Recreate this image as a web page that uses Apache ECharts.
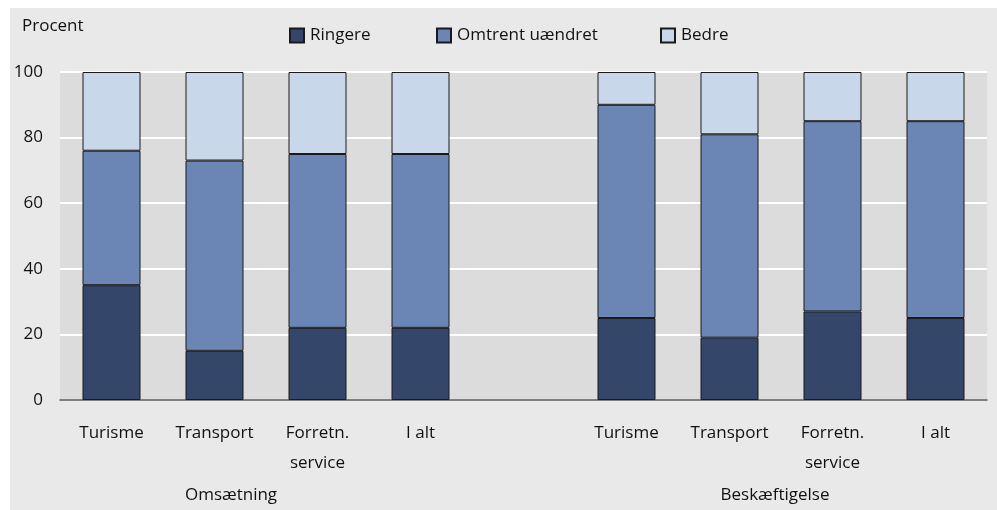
<!DOCTYPE html>
<html>
<head>
<meta charset="utf-8">
<script src="https://cdn.jsdelivr.net/npm/echarts@6/dist/echarts.min.js"></script>
<style>
html,body{margin:0;padding:0;background:#fff;}
#chart{width:997px;height:510px;}
</style>
</head>
<body>
<div id="chart"></div>
<script>
var categories = ['Turisme', 'Transport', 'Forretn.\nservice', 'I alt', '', 'Turisme', 'Transport', 'Forretn.\nservice', 'I alt'];
var ringere = [35, 15, 22, 22, null, 25, 19, 27, 25];
var omtrent = [41, 58, 53, 53, null, 65, 62, 58, 60];
var bedre = [24, 27, 25, 25, null, 10, 19, 15, 15];
var seriesNames = ['Ringere', 'Omtrent uændret', 'Bedre'];
var groupLabels = ['Omsætning', 'Beskæftigelse'];
var yTicks = [0, 20, 40, 60, 80, 100];

var FONT = '"Open Sans", sans-serif';
var FS = 17;
var TXT = '#111';
var colors = ['#34476b', '#6b86b5', '#c8d7e9'];
var legendLefts = [289, 436, 660];

var chart = echarts.init(document.getElementById('chart'), null, {renderer: 'canvas'});

function mk(name, data, color) {
  return {
    name: name,
    type: 'bar',
    stack: 'total',
    barWidth: 58,
    data: data,
    itemStyle: {color: color, borderColor: '#1a1a1a', borderWidth: 1},
    emphasis: {disabled: true}
  };
}

var legends = seriesNames.map(function (n, i) {
  return {
    left: legendLefts[i], top: 27, padding: 0,
    itemWidth: 14, itemHeight: 14,
    icon: 'rect',
    data: [n],
    selectedMode: false,
    textStyle: {fontSize: FS, color: TXT, fontFamily: FONT, padding: [0, 0, 0, 1]}
  };
});

chart.setOption({
  animation: false,
  backgroundColor: '#ffffff',
  textStyle: {fontFamily: FONT},
  graphic: [
    {type: 'rect', left: 10, top: 8, shape: {width: 987, height: 502}, style: {fill: '#e9e9e9'}, z: -10, silent: true},
    {type: 'text', x: 22, y: 26, style: {text: 'Procent', font: FS + 'px ' + FONT, fill: TXT, verticalAlign: 'middle'}},
    {type: 'text', x: 231, y: 495, style: {text: groupLabels[0], font: FS + 'px ' + FONT, fill: TXT, align: 'center', verticalAlign: 'middle'}},
    {type: 'text', x: 775, y: 495, style: {text: groupLabels[1], font: FS + 'px ' + FONT, fill: TXT, align: 'center', verticalAlign: 'middle'}}
  ],
  legend: legends,
  grid: {left: 60, right: 10, top: 72, bottom: 110, show: true, backgroundColor: '#dcdcdc', borderWidth: 0, containLabel: false},
  xAxis: {
    type: 'category',
    data: categories,
    axisLine: {show: true, lineStyle: {color: '#555', width: 1.5}},
    axisTick: {show: false},
    axisLabel: {fontSize: FS, color: TXT, lineHeight: 30, margin: 18, interval: 0, fontFamily: FONT},
    splitLine: {show: false}
  },
  yAxis: {
    type: 'value',
    min: yTicks[0], max: yTicks[yTicks.length - 1], interval: 20,
    axisLine: {show: false},
    axisTick: {show: false},
    axisLabel: {fontSize: FS, color: TXT, margin: 17, fontFamily: FONT},
    splitLine: {show: true, lineStyle: {color: '#ffffff', width: 2}}
  },
  series: [
    mk(seriesNames[0], ringere, colors[0]),
    mk(seriesNames[1], omtrent, colors[1]),
    mk(seriesNames[2], bedre, colors[2])
  ]
});
</script>
</body>
</html>
